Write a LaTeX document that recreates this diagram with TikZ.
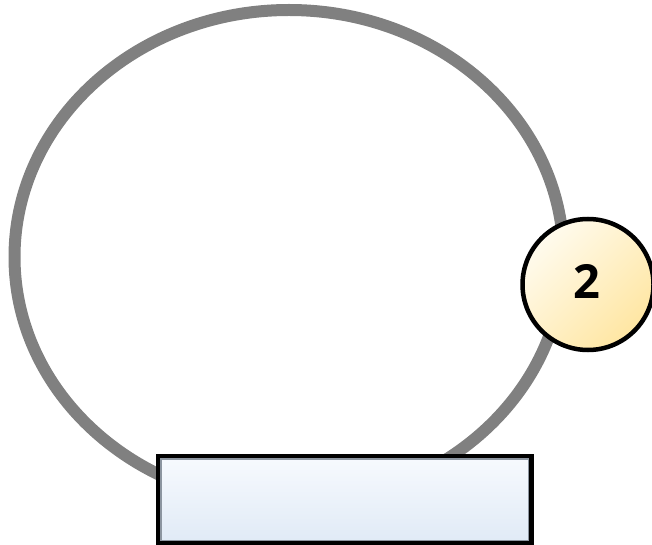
\documentclass[tikz,border=0pt]{standalone}
\usepackage{fontspec}
\setmainfont{Open Sans}
\usetikzlibrary{shapes.geometric}
\definecolor{ringgray}{HTML}{808080}
\definecolor{boxtop}{HTML}{F7FAFE}
\definecolor{boxbot}{HTML}{E0EAF6}
\definecolor{badgetl}{HTML}{FFFBEE}
\definecolor{badgebr}{HTML}{FFE6A2}
\definecolor{innergray}{HTML}{8C95A0}
\tikzset{
  ring/.style={ellipse, draw=ringgray, line width=12pt, inner sep=0pt, outer sep=0pt},
  basebox/.style={rectangle, inner sep=0pt,
    top color=boxtop, bottom color=boxbot,
    postaction={draw=black, line width=5pt}},
  badge/.style={circle, inner sep=0pt,
    minimum size=131pt, top color=badgetl, bottom color=badgebr, shading angle=45,
    postaction={draw=black, line width=4.5pt}},
  numlabel/.style={font=\fontsize{47}{50}\selectfont\bfseries}
}
\begin{document}
\begin{tikzpicture}[x=1pt,y=-1pt]
\useasboundingbox (0,0) rectangle (652,545);
\node[ring, minimum width=549pt, minimum height=494pt] (loop) at (289,257) {};
\node[basebox, minimum width=373pt, minimum height=87pt] (base) at (344.5,499.5) {};
\draw[innergray, line width=1.2pt] ([shift={(3.1,3.1)}]base.north west) rectangle ([shift={(-3.1,-3.1)}]base.south east);
\node[badge] (num) at (588,284.5) {};
\node[numlabel] (numtxt) at (586.5,281.5) {2};
\end{tikzpicture}
\end{document}
